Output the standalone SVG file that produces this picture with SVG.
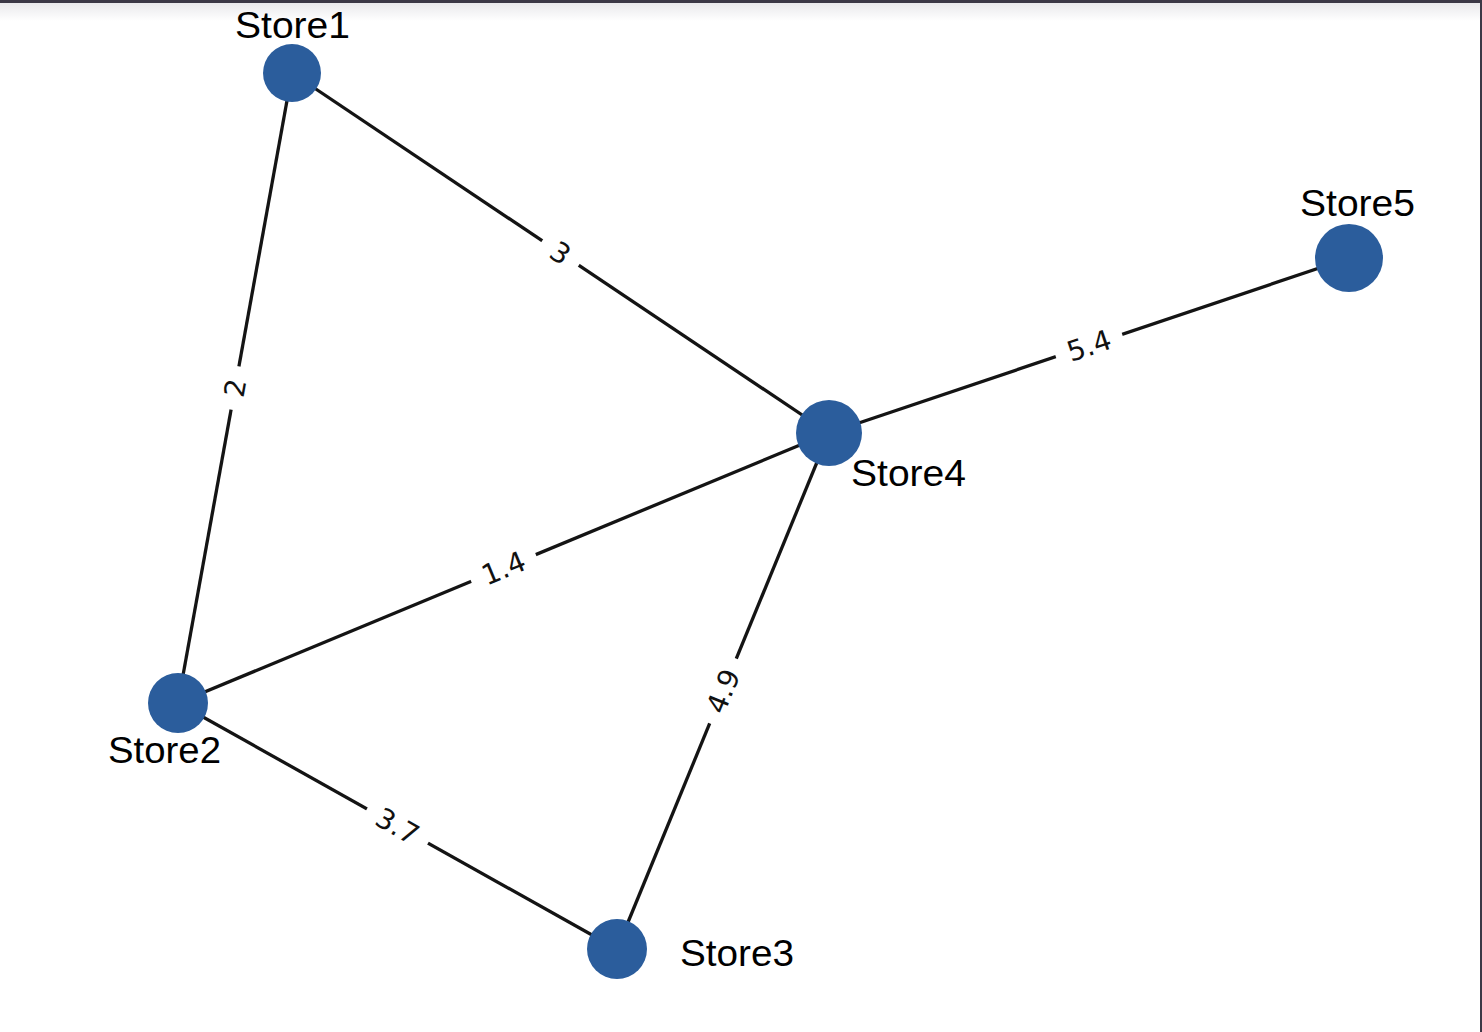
<svg xmlns="http://www.w3.org/2000/svg" width="1482" height="1032" viewBox="0 0 1482 1032">
<defs>
<linearGradient id="topfade" x1="0" y1="0" x2="0" y2="1">
<stop offset="0" stop-color="#e9e9ec"/>
<stop offset="1" stop-color="#ffffff"/>
</linearGradient>
<style>
.edge{stroke:#141414;stroke-width:3.3;fill:none;stroke-linecap:butt}
.node{fill:#2b5d9c}
.nlabel{font-family:"Liberation Sans","Open Sans",sans-serif;font-size:37px;fill:#000}
.elabel{font-family:"DejaVu Sans","Liberation Sans",sans-serif;font-size:28px;fill:#111;text-anchor:middle}
.ebox{fill:#ffffff}
</style>
</defs>
<rect x="0" y="0" width="1482" height="1032" fill="#ffffff"/>
<rect x="0" y="3" width="1480" height="18" fill="url(#topfade)"/>
<rect x="0" y="0" width="1482" height="3" fill="#3b3846"/>
<rect x="1480" y="0" width="2" height="1032" fill="#3b3846"/>

<g id="connectors">
<line class="edge" x1="292" y1="73" x2="829" y2="433"/>
<line class="edge" x1="292" y1="73" x2="178" y2="703"/>
<line class="edge" x1="178" y1="703" x2="829" y2="433"/>
<line class="edge" x1="829" y1="433" x2="617" y2="949"/>
<line class="edge" x1="178" y1="703" x2="617" y2="949"/>
<line class="edge" x1="829" y1="433" x2="1349" y2="258"/>
<g transform="translate(560.5,253) rotate(33.8)"><rect class="ebox" x="-22" y="-15" width="44" height="30"/><text class="elabel" x="0" y="10">3</text></g>
<g transform="translate(235,388) rotate(-79.7)"><rect class="ebox" x="-22" y="-15" width="44" height="30"/><text class="elabel" x="0" y="10">2</text></g>
<g transform="translate(503.5,568) rotate(-22.5)"><rect class="ebox" x="-35" y="-15" width="70" height="30"/><text class="elabel" x="0" y="10">1.4</text></g>
<g transform="translate(723,691) rotate(-67.7)"><rect class="ebox" x="-35" y="-15" width="70" height="30"/><text class="elabel" x="0" y="10">4.9</text></g>
<g transform="translate(397.5,826) rotate(29.3)"><rect class="ebox" x="-35" y="-15" width="70" height="30"/><text class="elabel" x="0" y="10">3.7</text></g>
<g transform="translate(1089,345.5) rotate(-18.6)"><rect class="ebox" x="-35" y="-15" width="70" height="30"/><text class="elabel" x="0" y="10">5.4</text></g>
</g>

<g id="Store1"><circle class="node" cx="292" cy="73" r="29"/><text class="nlabel" x="235" y="38" textLength="115" lengthAdjust="spacingAndGlyphs">Store1</text></g>
<g id="Store2"><circle class="node" cx="178" cy="703" r="30"/><text class="nlabel" x="108" y="763" textLength="113" lengthAdjust="spacingAndGlyphs">Store2</text></g>
<g id="Store3"><circle class="node" cx="617" cy="949" r="30"/><text class="nlabel" x="680" y="966" textLength="114" lengthAdjust="spacingAndGlyphs">Store3</text></g>
<g id="Store4"><circle class="node" cx="829" cy="433" r="33"/><text class="nlabel" x="851" y="486" textLength="115" lengthAdjust="spacingAndGlyphs">Store4</text></g>
<g id="Store5"><circle class="node" cx="1349" cy="258" r="34"/><text class="nlabel" x="1300" y="216" textLength="115" lengthAdjust="spacingAndGlyphs">Store5</text></g>
</svg>
